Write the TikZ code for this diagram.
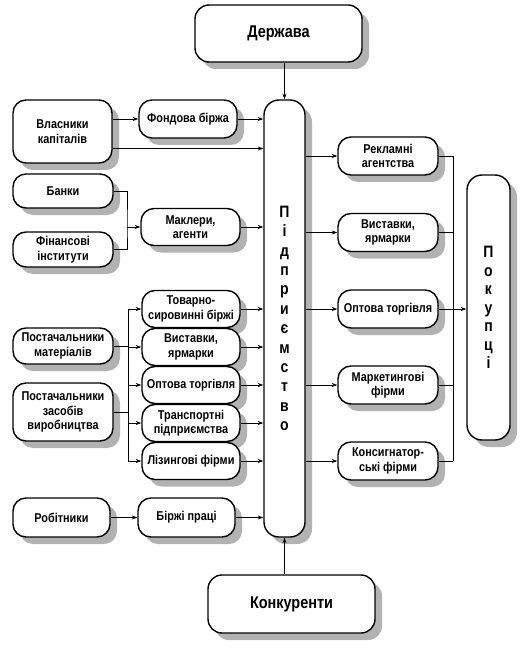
\documentclass[tikz,border=0pt]{standalone}
\usepackage{fontspec}
\setmainfont{Liberation Sans}[FakeStretch=0.85]
\usetikzlibrary{shadows,arrows.meta,calc}
\begin{document}
\begin{tikzpicture}[x=1pt,y=-1pt,
  box/.style={draw,line width=1.4pt,rounded corners=13pt,fill=white,align=center,inner sep=0pt,
    font=\bfseries\fontsize{12.8}{14.5}\selectfont,
    drop shadow={shadow xshift=7pt,shadow yshift=-7pt,fill=gray!60,opacity=1}},
  bigbox/.style={box,rounded corners=14pt,font=\bfseries\fontsize{17}{19}\selectfont},
  vbox/.style={box,rounded corners=15pt,font=\bfseries\fontsize{16.5}{19.4}\selectfont},
  conn/.style={line width=0.8pt},
  arr/.style={conn,-{Stealth[length=5.5pt,width=4pt]}}]
\useasboundingbox (0,0) rectangle (531,652);
% top and bottom
\node[bigbox,minimum width=167pt,minimum height=57pt] (derzh) at (278.5,33.5) {Держава};
\node[bigbox,minimum width=167pt,minimum height=58pt] (konk) at (291.5,604) {Конкуренти};
% central
\node[vbox,minimum width=41pt,minimum height=437pt] (pid) at (284.5,318.5) {П\\і\\д\\п\\р\\и\\є\\м\\с\\т\\в\\о};
\node[vbox,minimum width=43pt,minimum height=265pt,font=\bfseries\fontsize{16.5}{18.5}\selectfont] (pok) at (488.5,307.5) {П\\о\\к\\у\\п\\ц\\і};
% left column
\node[box,minimum width=99pt,minimum height=63pt] (vk) at (62.5,131.5) {Власники\\капіталів};
\node[box,minimum width=100pt,minimum height=34pt] (banky) at (63,191) {Банки};
\node[box,minimum width=100pt,minimum height=35pt] (fin) at (63,249.5) {Фінансові\\інститути};
\node[box,minimum width=100pt,minimum height=36pt] (pm) at (63,346) {Постачальники\\матеріалів};
\node[box,minimum width=100pt,minimum height=58pt] (pz) at (63,412) {Постачальники\\засобів\\виробництва};
\node[box,minimum width=97pt,minimum height=39pt] (rob) at (61.5,517.5) {Робітники};
% middle-left column
\node[box,minimum width=98pt,minimum height=38pt] (fb) at (188,119) {Фондова біржа};
\node[box,minimum width=99pt,minimum height=37pt] (makl) at (190.5,227) {Маклери,\\агенти};
\node[box,minimum width=98pt,minimum height=37pt] (tov) at (191,309) {Товарно-\\сировинні біржі};
\node[box,minimum width=98pt,minimum height=37pt] (vys1) at (191,347) {Виставки,\\ярмарки};
\node[box,minimum width=98pt,minimum height=37pt] (opt1) at (191,385) {Оптова торгівля};
\node[box,minimum width=98pt,minimum height=37pt] (tran) at (191,423) {Транспортні\\підприємства};
\node[box,minimum width=98pt,minimum height=37pt] (liz) at (191,461) {Лізингові фірми};
\node[box,minimum width=97pt,minimum height=39pt] (bp) at (186.5,517.5) {Біржі праці};
% right column
\node[box,minimum width=100pt,minimum height=38pt] (rek) at (388,156) {Рекламні\\агентства};
\node[box,minimum width=100pt,minimum height=38pt] (vys2) at (388,232.5) {Виставки,\\ярмарки};
\node[box,minimum width=100pt,minimum height=38pt] (opt2) at (388,309) {Оптова торгівля};
\node[box,minimum width=100pt,minimum height=38pt] (mark) at (388,385) {Маркетингові\\фірми};
\node[box,minimum width=100pt,minimum height=38pt] (kons) at (388,461) {Консигнатор-\\ські фірми};
% junction coordinates
\coordinate (jb) at (127,227);
\coordinate (sv) at (128,309);
\coordinate (rv) at (453,156);
% connectors
\draw[arr] (pid.north |- derzh.south) -- (pid.north);
\draw[arr] (pid.south |- konk.north) -- (pid.south);
\draw[arr] (fb.west -| vk.east) -- (fb.west);
\draw[arr] (fb.east) -- (fb.east -| pid.west);
\draw[arr] ([yshift=-17pt]vk.east) -- ([yshift=-17pt]vk.east -| pid.west);
\draw[conn] (banky.east) -| (jb) |- (fin.east);
\draw[arr] (jb) -- (makl.west);
\draw[arr] (makl.east) -- (makl.east -| pid.west);
\draw[conn] (tov.west -| sv) -- (liz.west -| sv);
\draw[conn] (pm.east) -- (pm.east -| sv);
\draw[conn] (pz.east) -- (pz.east -| sv);
\foreach \n in {tov,vys1,opt1,tran,liz}{
  \draw[arr] (\n.west -| sv) -- (\n.west);
  \draw[arr] (\n.east) -- (\n.east -| pid.west);
}
\draw[arr] (rob.east) -- (bp.west);
\draw[arr] (bp.east) -- (bp.east -| pid.west);
\foreach \n in {rek,vys2,opt2,mark,kons}{
  \draw[arr] (\n.west -| pid.east) -- (\n.west);
  \draw[conn] (\n.east) -- (\n.east -| rv);
}
\draw[conn] (rek.east -| rv) -- (kons.east -| rv);
\draw[arr] (opt2.east -| rv) -- (opt2.east -| pok.west);
\end{tikzpicture}
\end{document}
